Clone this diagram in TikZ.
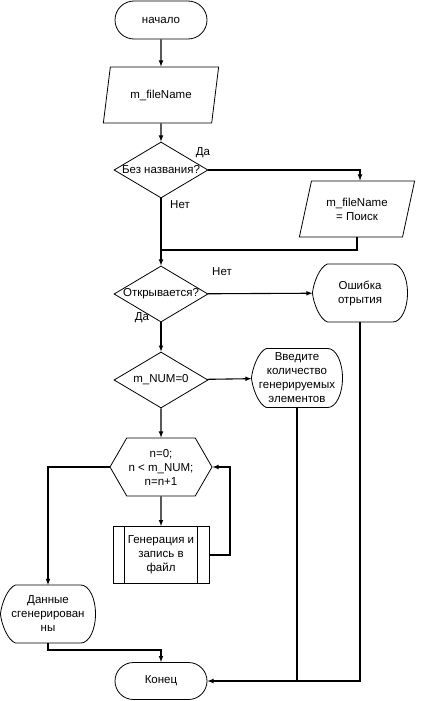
\documentclass[tikz,border=0pt]{standalone}
\usepackage{fontspec}
\setmainfont{Liberation Sans}
\usetikzlibrary{shapes.geometric,shapes.misc,shapes.symbols}

% outline of a display block drawn around a plain node
\newcommand{\displine}[1]{%
\draw[line width=0.8pt] ([xshift=15pt]#1.north west) -- ([xshift=-15pt]#1.north east)
  .. controls ([xshift=-6pt]#1.north east) and ([yshift=15pt]#1.east) .. (#1.east)
  .. controls ([yshift=-15pt]#1.east) and ([xshift=-6pt]#1.south east) .. ([xshift=-15pt]#1.south east)
  -- ([xshift=15pt]#1.south west)
  .. controls ([xshift=7pt,yshift=3pt]#1.south west) and ([xshift=1pt,yshift=-10pt]#1.west) .. (#1.west)
  .. controls ([xshift=1pt,yshift=10pt]#1.west) and ([xshift=7pt,yshift=-3pt]#1.north west) .. cycle;}

\begin{document}
\begin{tikzpicture}[x=1pt,y=-1pt,line width=1.1pt,>=latex,font=\fontsize{11.5}{14}\selectfont]
\useasboundingbox (0,0) rectangle (422,701);
\begin{scope}[align=center,inner sep=1pt]
\tikzstyle{term}=[draw,line width=0.8pt,rounded rectangle,minimum width=94pt,minimum height=38pt]
\tikzstyle{io}=[draw,line width=0.8pt,trapezium,trapezium left angle=71,trapezium right angle=109,trapezium stretches=true,minimum width=116pt,minimum height=56pt]
\tikzstyle{dec}=[draw,line width=0.8pt,diamond,aspect=1.66,inner sep=0pt,minimum width=94pt,minimum height=56pt]
\tikzstyle{disp}=[rectangle,inner sep=0pt,minimum width=94pt,minimum height=57pt]
\tikzstyle{hex}=[draw,line width=0.8pt,signal,signal to=west and east,signal pointer angle=120,minimum width=102pt,minimum height=58pt]
\tikzstyle{proc}=[draw,line width=0.8pt,rectangle,minimum width=96pt,minimum height=57pt]
\node[term] (T_0) at (161,20) {начало};
\node[io] (I_0) at (161,95) {m\_fileName};
\node[dec] (D_0) at (161,170) {Без названия?};
\node[io] (I_1) at (357,209) {m\_fileName\\= Поиск};
\node[dec] (D_1) at (161,294) {Открывается?};
\node[disp] (E_0) at (360,293) {Ошибка\\отрытия};
\node[dec] (D_2) at (161,380) {m\_NUM=0};
\node[disp,minimum width=90pt,minimum height=58pt] (V_0) at (297,378) {Введите\\количество\\генерируемых\\элементов};
\node[hex] (L_0) at (161,467) {n=0;\\n < m\_NUM;\\n=n+1};
\node[proc] (P_0) at (161,555) {Генерация и\\запись в\\файл};
\node[disp] (O_0) at (48,614) {Данные\\сгенерирован\\ны};
\node[term,minimum height=37pt] (T_1) at (161,681) {Конец};
\node (A_0) at (203,153) {Да};
\node (A_1) at (180,205) {Нет};
\node (A_2) at (222,272) {Нет};
\node (A_3) at (142,318) {Да};
\coordinate (C_0) at (161,250);
\coordinate (C_1) at (230,467);
\coordinate (C_2) at (161,650);
\end{scope}
\displine{E_0}
\displine{V_0}
\displine{O_0}
\draw[line width=0.8pt] ([xshift=12pt]P_0.north west) -- ([xshift=12pt]P_0.south west);
\draw[line width=0.8pt] ([xshift=-12pt]P_0.north east) -- ([xshift=-12pt]P_0.south east);
\draw [->] (T_0) -- (I_0);
\draw [->] (I_0) -- (D_0);
\draw [->] (D_0.east) -| ([xshift=3pt]I_1.north);
\draw (I_1.south) |- (C_0);
\draw [->] (D_0) -- (D_1);
\draw [->] (D_1) -- (E_0);
\draw [->] (D_1) -- (D_2);
\draw [->] (D_2) -- (V_0);
\draw [->] (D_2) -- (L_0);
\draw [->] (L_0) -- (P_0);
\draw [->] (P_0.east) -| (C_1) -- (L_0.east);
\draw [->] (L_0.west) -| (O_0.north);
\draw [->] (O_0.south) |- (C_2) -- (T_1.north);
\draw [->] (E_0.south) |- (T_1.east);
\draw (V_0.south) -- (V_0.south |- T_1.east);
\end{tikzpicture}
\end{document}
